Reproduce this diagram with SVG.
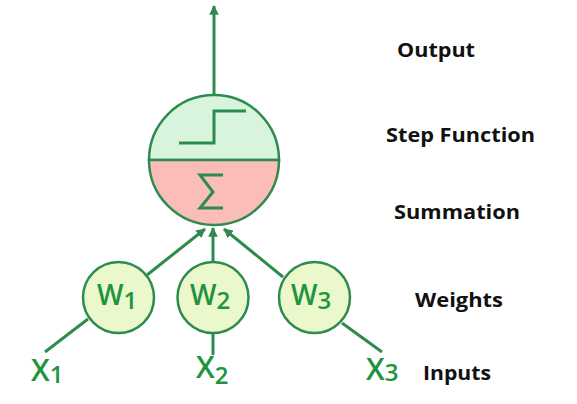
<svg xmlns="http://www.w3.org/2000/svg" width="577" height="404" viewBox="0 0 577 404">
<style>
.ln{stroke:#2e8b4e;stroke-width:3;fill:none;stroke-linecap:butt}
.nd{stroke:#2e8b4e;stroke-width:2.5}
.wt{fill:#1f9440;font-family:"Open Sans","Noto Sans",sans-serif;font-weight:600;font-size:28px}
.xt{font-size:30px}
.sub{font-size:24px}
.lb{fill:#111;font-family:"Open Sans","Liberation Sans",sans-serif;font-weight:700;font-size:20px}
</style>
<defs>
<marker id="ah" viewBox="0 0 10 10" refX="9" refY="5" markerWidth="3.2" markerHeight="3.2" orient="auto" markerUnits="strokeWidth">
<path d="M0,0 L10,5 L0,10 z" fill="#2e8b4e"/>
</marker>
</defs>
<rect width="577" height="404" fill="#ffffff"/>
<g id="connectors">
<line class="ln" x1="214" y1="95" x2="214" y2="6" marker-end="url(#ah)"/>
<line class="ln" x1="147" y1="275" x2="205" y2="229" marker-end="url(#ah)"/>
<line class="ln" x1="213" y1="262" x2="213" y2="228" marker-end="url(#ah)"/>
<line class="ln" x1="283" y1="277" x2="224" y2="229" marker-end="url(#ah)"/>
<line class="ln" x1="88" y1="319" x2="45" y2="352"/>
<line class="ln" x1="213" y1="333" x2="213" y2="355"/>
<line class="ln" x1="342" y1="323" x2="382" y2="352"/>
</g>
<g id="neuron">
<path class="nd" d="M149,160 A65,65 0 0 1 279,160 Z" fill="#d9f4dc"/>
<path class="nd" d="M149,160 A65,65 0 0 0 279,160 Z" fill="#fbbdb9"/>
<polyline class="ln" points="179,143 214,143 214,111 246,111"/>
<polyline class="ln" points="223,175 200,175 213,192 200,208 223,208" stroke-linejoin="miter"/>
</g>
<g id="w1">
<circle class="nd" cx="118.5" cy="297.5" r="35.5" fill="#ebf8cb"/>
<text class="wt" x="97" y="305">W<tspan class="sub" dy="4">1</tspan></text>
</g>
<g id="w2">
<circle class="nd" cx="213" cy="297.5" r="35.5" fill="#ebf8cb"/>
<text class="wt" x="190" y="305">W<tspan class="sub" dy="4">2</tspan></text>
</g>
<g id="w3">
<circle class="nd" cx="314.5" cy="297.5" r="35.5" fill="#ebf8cb"/>
<text class="wt" x="291" y="305">W<tspan class="sub" dy="4">3</tspan></text>
</g>
<g id="x1"><text class="wt xt" x="31" y="381">X<tspan class="sub" dy="2">1</tspan></text></g>
<g id="x2"><text class="wt xt" x="196" y="378">X<tspan class="sub" dy="6">2</tspan></text></g>
<g id="x3"><text class="wt xt" x="366" y="380">X<tspan class="sub" dy="1">3</tspan></text></g>
<g id="labels">
<text class="lb" x="397" y="57" textLength="78" lengthAdjust="spacingAndGlyphs">Output</text>
<text class="lb" x="386" y="142" textLength="149" lengthAdjust="spacingAndGlyphs">Step Function</text>
<text class="lb" x="394" y="219" textLength="126" lengthAdjust="spacingAndGlyphs">Summation</text>
<text class="lb" x="415" y="307" textLength="88" lengthAdjust="spacingAndGlyphs">Weights</text>
<text class="lb" x="423" y="380" textLength="68" lengthAdjust="spacingAndGlyphs">Inputs</text>
</g>
</svg>
